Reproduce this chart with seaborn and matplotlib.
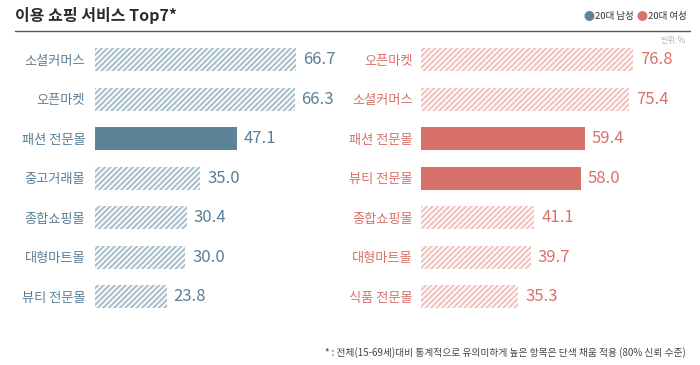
import matplotlib
matplotlib.use("Agg")
import matplotlib.pyplot as plt
import seaborn as sns
import pandas as pd

men_cats = ['소셜커머스', '오픈마켓', '패션 전문몰', '중고거래몰', '종합쇼핑몰', '대형마트몰', '뷰티 전문몰']
men_vals = [66.7, 66.3, 47.1, 35.0, 30.4, 30.0, 23.8]
men_sig = [False, False, True, False, False, False, False]

women_cats = ['오픈마켓', '소셜커머스', '패션 전문몰', '뷰티 전문몰', '종합쇼핑몰', '대형마트몰', '식품 전문몰']
women_vals = [76.8, 75.4, 59.4, 58.0, 41.1, 39.7, 35.3]
women_sig = [False, False, True, True, False, False, False]

title = '이용 쇼핑 서비스 Top7*'
legend_labels = ['20대 남성', '20대 여성']
unit_text = '단위:%'
footnote = '* : 전체(15-69세)대비 통계적으로 유의미하게 높은 항목은 단색 채움 적용 (80% 신뢰 수준)'

sns.set_theme(style='white')
plt.rcParams['font.family'] = ['Noto Sans CJK KR', 'DejaVu Sans']
plt.rcParams['hatch.linewidth'] = 1.5

BLUE = '#5b8499'
BLUE_H = '#a9bfcb'
BLUE_T = '#5a7f96'
RED = '#d9716b'
RED_H = '#f2c2bf'

W, H = 700, 365
fig = plt.figure(figsize=(7, 3.65), dpi=100)

def px_ax(x0, y0, w, h):
    return fig.add_axes([x0 / W, 1 - (y0 + h) / H, w / W, h / H])

def panel(ax, cats, vals, sig, solid, hatchc, textc, valc, xmax, pad):
    df = pd.DataFrame({'cat': cats, 'val': vals})
    sns.barplot(data=df, x='val', y='cat', orient='h', ax=ax, width=0.58,
                color=solid, saturation=1)
    for p, s in zip(ax.patches, sig):
        p.set_linewidth(0)
        if s:
            p.set_facecolor(solid)
        else:
            p.set_facecolor('white')
            p.set_edgecolor(hatchc)
            p.set_hatch('//////')
    for i, v in enumerate(vals):
        ax.annotate(f'{v:.1f}', xy=(v, i), xytext=(5, 0), textcoords='offset points',
                    va='center', ha='left', fontsize=12, color=valc)
    ax.set_xlim(0, xmax)
    ax.set_ylim(6.5, -0.5)
    ax.set_xlabel('')
    ax.set_ylabel('')
    ax.set_xticks([])
    ax.tick_params(axis='y', length=0, pad=pad, labelsize=9.5, labelcolor=textc)
    sns.despine(ax=ax, left=True, bottom=True)
    ax.patch.set_alpha(0)

axL = px_ax(95, 40, 230, 276.5)
panel(axL, men_cats, men_vals, men_sig, BLUE, BLUE_H, BLUE_T, BLUE_T, 230 / 3.01, 7)

axR = px_ax(421, 40, 230, 276.5)
panel(axR, women_cats, women_vals, women_sig, RED, RED_H, RED, RED, 230 / 2.76, 6)

fig.text(15 / W, 1 - 16 / H, title, fontsize=11.5, color='#2b2b2b', va='center', ha='left',
         fontweight='bold')
fig.add_artist(plt.Line2D([15 / W, 690 / W], [1 - 31 / H, 1 - 31 / H], color='#555555', lw=1))

# legend
fig.text(589 / W, 1 - 17 / H, '●', fontsize=8, color=BLUE, va='center', ha='center')
fig.text(595 / W, 1 - 17 / H, legend_labels[0], fontsize=6.8, color='#333333', va='center', ha='left')
fig.text(642 / W, 1 - 17 / H, '●', fontsize=8, color=RED, va='center', ha='center')
fig.text(648 / W, 1 - 17 / H, legend_labels[1], fontsize=6.8, color='#333333', va='center', ha='left')

fig.text(686 / W, 1 - 40 / H, unit_text, fontsize=6, color='#b5b5b5', va='center', ha='right')
fig.text(686 / W, 1 - 353 / H, footnote, fontsize=7, color='#444444', va='center', ha='right')

fig.savefig('out.png', dpi=100)
